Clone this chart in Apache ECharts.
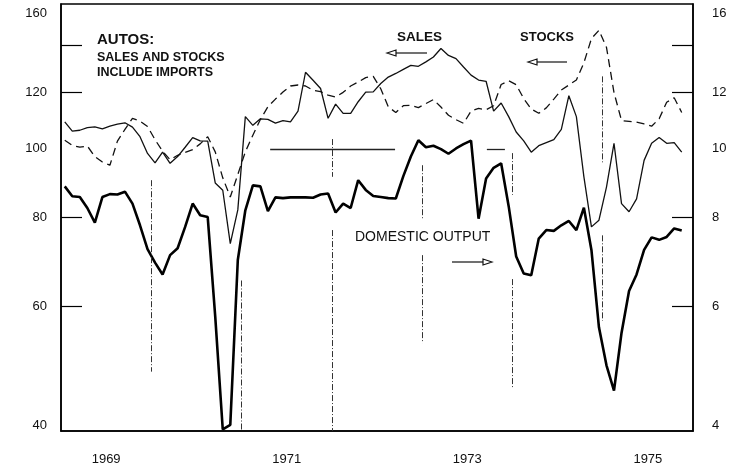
<!DOCTYPE html>
<html>
<head>
<meta charset="utf-8">
<script src="https://cdn.jsdelivr.net/npm/echarts@6/dist/echarts.min.js"></script>
<style>
html,body{margin:0;padding:0;background:#fff;}
#chart{width:746px;height:467px;}
</style>
</head>
<body>
<div id="chart"></div>
<script>
// Monthly observations, Jan 1969 .. Nov 1975 (index 0 = Jan 1969)
const startYear = 1969;
const monthsSpan = 84; // Jan 1969 .. Dec 1975

// Sales (left axis, incl. imports)
const sales = [
  109.1,105.9,106.2,107.1,107.4,106.7,107.6,108.3,108.8,107.3,104.0,98.5,
  95.5,98.9,95.4,97.5,100.5,103.7,102.6,102.5,89.5,87.4,73.5,82.0,
  111.0,107.9,110.2,110.0,108.7,109.6,109.1,113.0,128.2,124.9,121.6,110.4,
  115.6,112.2,112.2,116.5,120.2,120.3,123.6,126.2,127.7,129.4,131.1,130.7,
  132.6,134.7,138.5,135.4,134.0,130.4,127.0,125.0,124.5,113.0,116.0,111.0,
  105.6,102.6,98.9,101.0,102.0,103.0,106.5,118.8,111.0,91.3,77.6,79.3,
  88.3,101.8,83.7,81.5,85.0,96.3,101.8,103.7,101.8,102.0,98.9
];

// Stocks (left axis, incl. imports)
const stocks = [
  102.8,101.1,100.5,100.9,97.5,95.8,94.8,102.5,106.5,110.4,109.4,107.5,
  103.0,99.2,96.5,97.9,98.8,99.7,101.6,104.0,99.0,91.0,85.5,92.0,
  99.0,104.5,110.0,114.6,117.5,120.2,122.6,123.0,122.6,120.9,120.4,119.0,
  118.3,120.1,122.6,124.2,126.0,126.5,121.5,114.6,112.5,115.0,115.2,114.3,
  115.8,117.3,114.5,111.5,109.9,108.6,113.0,114.0,113.5,115.0,123.2,124.7,
  123.1,117.7,113.8,112.2,114.2,117.5,121.0,123.0,125.0,132.2,143.0,146.9,
  139.0,120.0,109.6,109.3,109.0,108.4,107.6,110.2,116.3,118.0,112.5
];

// Domestic output (right axis)
const output = [
  8.85,8.57,8.55,8.25,7.87,8.55,8.63,8.62,8.70,8.37,7.80,7.22,
  6.91,6.65,7.08,7.24,7.76,8.37,8.06,8.01,5.80,4.02,4.08,6.97,
  8.19,8.88,8.85,8.17,8.54,8.52,8.54,8.54,8.54,8.53,8.62,8.65,
  8.13,8.37,8.25,9.03,8.75,8.58,8.55,8.52,8.51,9.15,9.75,10.28,
  10.05,10.10,9.99,9.84,10.01,10.15,10.27,7.97,9.08,9.40,9.54,8.30,
  7.05,6.67,6.63,7.47,7.68,7.66,7.80,7.91,7.68,8.26,7.20,5.60,
  4.95,4.56,5.50,6.30,6.65,7.20,7.50,7.44,7.51,7.72,7.67
];

// Axis labels / ticks
const yearLabels = ['1969','1971','1973','1975'];
const leftLabels = [40,60,80,100,120,160];
const leftTicks = [60,80,120,140];
const rightLabels = [4,6,8,10,12,16];
const rightTicks = [6,8,12,14];

// Vertical year-boundary marker segments: month index, [low, high] on left scale
const yearMarks = [
  [12, [[48.5, 90.3]]],
  [24, [[40, 65.2]]],
  [36, [[91.3, 103.2], [40, 76.8]]],
  [48, [[79.6, 94.8], [53.2, 70.8]]],
  [60, [[86.1, 98.6], [46.0, 65.5]]],
  [72, [[95.7, 126.5], [57.2, 75.5]]]
];
// Horizontal reference segments at 100 (month ranges)
const refLevel = 100;
const refSegments = [[27.8, 44.4], [56.6, 59.0]];

const toXY = arr => arr.map((v, i) => [i + 0.5, v]);
const yearPos = yearLabels.map(y => (Number(y) - startYear) * 12 + 6);

const markData = [];
yearMarks.forEach(([m, ranges]) => {
  ranges.forEach(([lo, hi]) => {
    markData.push([{coord: [m, hi]}, {coord: [m, lo]}]);
  });
});
const refData = refSegments.map(([a, b]) => [{coord: [a, refLevel]}, {coord: [b, refLevel]}]);

const FONT = "'Liberation Sans', Arial, sans-serif";
const chart = echarts.init(document.getElementById('chart'), null, {renderer: 'canvas'});

function edgeRich(extra) {
  return {
    top: {fontSize: 13, fontFamily: FONT, color: '#111', padding: [18, 0, 0, 0]},
    bot: {fontSize: 13, fontFamily: FONT, color: '#111', padding: [0, 0, 12, 0]}
  };
}

chart.setOption({
  animation: false,
  backgroundColor: '#fff',
  grid: {left: 61, right: 53, top: 4, bottom: 36, show: true, borderColor: '#000', borderWidth: 1.5, backgroundColor: 'transparent'},
  xAxis: {
    type: 'value', min: 0, max: monthsSpan,
    axisLine: {show: true, lineStyle: {color: '#000', width: 1.5}},
    axisTick: {show: false},
    splitLine: {show: false},
    axisLabel: {
      customValues: yearPos,
      formatter: v => yearLabels[yearPos.indexOf(v)] || '',
      fontSize: 13, fontFamily: FONT, color: '#111', margin: 22
    }
  },
  yAxis: [
    {
      type: 'log', logBase: 10, min: 40, max: 160, position: 'left',
      axisLine: {show: true, lineStyle: {color: '#000', width: 1.5}},
      splitLine: {show: false},
      axisTick: {show: true, inside: true, length: 21, customValues: leftTicks, lineStyle: {color: '#000', width: 1.2}},
      axisLabel: {
        customValues: leftLabels, margin: 14, fontSize: 13, fontFamily: FONT, color: '#111',
        formatter: v => {
          const r = Math.round(v);
          if (r === 160) return '{top|160}';
          if (r === 40) return '{bot|40}';
          return String(r);
        },
        rich: edgeRich()
      }
    },
    {
      type: 'log', logBase: 10, min: 4, max: 16, position: 'right',
      axisLine: {show: true, lineStyle: {color: '#000', width: 1.5}},
      splitLine: {show: false},
      axisTick: {show: true, inside: true, length: 21, customValues: rightTicks, lineStyle: {color: '#000', width: 1.2}},
      axisLabel: {
        customValues: rightLabels, margin: 19, fontSize: 13, fontFamily: FONT, color: '#111',
        formatter: v => {
          const r = Math.round(v);
          if (r === 16) return '{top|16}';
          if (r === 4) return '{bot|4}';
          return String(r);
        },
        rich: edgeRich()
      }
    }
  ],
  series: [
    {
      name: 'Sales', type: 'line', yAxisIndex: 0, data: toXY(sales),
      symbol: 'none', lineStyle: {color: '#111', width: 1.3},
      markLine: {
        silent: true, symbol: ['none', 'none'], label: {show: false},
        lineStyle: {color: '#333', width: 1, type: [6, 2, 1, 2]},
        data: markData
      },
      z: 3
    },
    {
      name: 'Stocks', type: 'line', yAxisIndex: 0, data: toXY(stocks),
      symbol: 'none', lineStyle: {color: '#111', width: 1.3, type: [8, 5]},
      markLine: {
        silent: true, symbol: ['none', 'none'], label: {show: false},
        lineStyle: {color: '#222', width: 1.3, type: 'solid'},
        data: refData
      },
      z: 3
    },
    {
      name: 'Domestic output', type: 'line', yAxisIndex: 1, data: toXY(output),
      symbol: 'none', lineStyle: {color: '#000', width: 2.6}, z: 4
    }
  ],
  graphic: [
    {type: 'text', style: {x: 97, y: 40, text: 'AUTOS:', font: "bold 15px " + FONT, fill: '#111', verticalAlign: 'middle'}},
    {type: 'text', style: {x: 97, y: 57.5, text: 'SALES AND STOCKS', font: "bold 12.5px " + FONT, fill: '#111', verticalAlign: 'middle'}},
    {type: 'text', style: {x: 97, y: 72.5, text: 'INCLUDE IMPORTS', font: "bold 12.5px " + FONT, fill: '#111', verticalAlign: 'middle'}},
    {type: 'text', style: {x: 397, y: 37.5, text: 'SALES', font: "bold 13.5px " + FONT, fill: '#111', verticalAlign: 'middle'}},
    {type: 'text', style: {x: 520, y: 37.5, text: 'STOCKS', font: "bold 13px " + FONT, fill: '#111', verticalAlign: 'middle'}},
    {type: 'text', style: {x: 355, y: 237.5, text: 'DOMESTIC OUTPUT', font: "14px " + FONT, fill: '#111', verticalAlign: 'middle'}},
    // arrows
    {type: 'line', shape: {x1: 396, y1: 53, x2: 427, y2: 53}, style: {stroke: '#111', lineWidth: 1.2}},
    {type: 'polygon', shape: {points: [[387, 53], [396, 50], [396, 56]]}, style: {fill: '#fff', stroke: '#111', lineWidth: 1.2}},
    {type: 'line', shape: {x1: 537, y1: 62, x2: 567, y2: 62}, style: {stroke: '#111', lineWidth: 1.2}},
    {type: 'polygon', shape: {points: [[528, 62], [537, 59], [537, 65]]}, style: {fill: '#fff', stroke: '#111', lineWidth: 1.2}},
    {type: 'line', shape: {x1: 452, y1: 262, x2: 483, y2: 262}, style: {stroke: '#111', lineWidth: 1.2}},
    {type: 'polygon', shape: {points: [[492, 262], [483, 259], [483, 265]]}, style: {fill: '#fff', stroke: '#111', lineWidth: 1.2}}
  ]
});
</script>
</body>
</html>
